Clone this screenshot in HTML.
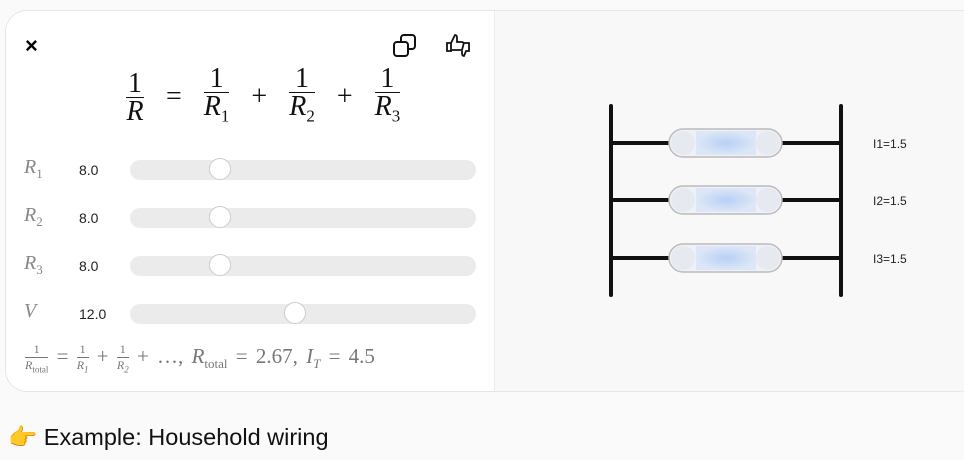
<!DOCTYPE html>
<html><head><meta charset="utf-8"><style>
body{margin:0;width:964px;height:460px;background:#fafafa;position:relative;overflow:hidden;font-family:"Liberation Sans",sans-serif}
.card{position:absolute;left:5px;top:10px;width:975px;height:380px;border:1px solid #e6e6e6;border-radius:22px;background:#f8f8f8;overflow:hidden}
.left{position:absolute;left:0;top:0;width:488px;height:380px;background:#fff;border-right:1px solid #ececec}
.m{font-family:"Liberation Serif",serif;position:absolute}
.lab{position:absolute;left:18px;font-family:"Liberation Serif",serif;font-style:italic;font-size:20px;color:#888}
.lab sub{font-style:normal;font-size:13px}
.val{position:absolute;left:73px;font-size:14px;color:#222}
.track{position:absolute;left:124px;width:346px;height:20px;border-radius:10px;background:#ebebeb}
.knob{position:absolute;width:22px;height:22px;border-radius:50%;background:#fff;border:1px solid #ccc;top:-2px;box-sizing:border-box}
.frac{display:inline-block;vertical-align:middle;text-align:center}
.frac span{display:block}
.big .frac{padding:0 3px}
</style></head><body>
<div class="card">
<div class="left">
<div style="position:absolute;left:19px;top:22px;font-size:22px;font-weight:bold">×</div>
<svg style="position:absolute;left:386px;top:22px" width="26" height="26" viewBox="0 0 26 26" fill="none" stroke="#111" stroke-width="2"><rect x="2" y="9" width="14" height="14" rx="3"/><path d="M9 9V5a3 3 0 0 1 3-3h8a3 3 0 0 1 3 3v8a3 3 0 0 1-3 3h-4"/></svg>
<svg style="position:absolute;left:438px;top:20px" width="30" height="30" viewBox="0 0 30 30" fill="none" stroke="#111" stroke-width="1.8"><path d="M3 12h4v8H3zM7 12l4-8c2 0 2 2 2 4v3h5c1 0 2 1 1.5 2.5L18 19H7"/><path d="M20 12h5v8h-3l-2 5c-2 0-2-2-2-3v-2"/></svg>
<div class="m big" style="left:117px;top:55px;font-size:28px;color:#111;white-space:nowrap">
<span class="frac"><span style="border-bottom:1.5px solid #111;padding:0 2px;line-height:26px">1</span><span style="font-style:italic;line-height:28px">R</span></span>
<span style="margin:0 12px">=</span>
<span class="frac"><span style="border-bottom:1.5px solid #111;line-height:26px">1</span><span style="font-style:italic;line-height:28px">R<sub style="font-style:normal;font-size:17px">1</sub></span></span>
<span style="margin:0 12px">+</span>
<span class="frac"><span style="border-bottom:1.5px solid #111;line-height:26px">1</span><span style="font-style:italic;line-height:28px">R<sub style="font-style:normal;font-size:17px">2</sub></span></span>
<span style="margin:0 12px">+</span>
<span class="frac"><span style="border-bottom:1.5px solid #111;line-height:26px">1</span><span style="font-style:italic;line-height:28px">R<sub style="font-style:normal;font-size:17px">3</sub></span></span>
</div>
<div class="lab" style="top:145px">R<sub>1</sub></div><div class="val" style="top:151px">8.0</div><div class="track" style="top:149px"><div class="knob" style="left:79px"></div></div>
<div class="lab" style="top:193px">R<sub>2</sub></div><div class="val" style="top:199px">8.0</div><div class="track" style="top:197px"><div class="knob" style="left:79px"></div></div>
<div class="lab" style="top:241px">R<sub>3</sub></div><div class="val" style="top:247px">8.0</div><div class="track" style="top:245px"><div class="knob" style="left:79px"></div></div>
<div class="lab" style="top:289px">V</div><div class="val" style="top:295px">12.0</div><div class="track" style="top:293px"><div class="knob" style="left:154px"></div></div>
<div class="m" style="left:19px;top:331px;font-size:21px;color:#777;white-space:nowrap;word-spacing:3px">
<span class="frac" style="font-size:12px"><span style="border-bottom:1px solid #777">1</span><span style="font-style:italic">R<sub style="font-style:normal;font-size:9px">total</sub></span></span>
= <span class="frac" style="font-size:12px"><span style="border-bottom:1px solid #777">1</span><span style="font-style:italic">R<sub style="font-size:9px">1</sub></span></span>
+ <span class="frac" style="font-size:12px"><span style="border-bottom:1px solid #777">1</span><span style="font-style:italic">R<sub style="font-size:9px">2</sub></span></span>
+ …, <i>R</i><sub style="font-size:13px">total</sub> = 2.67, <i>I<sub style="font-size:13px">T</sub></i> = 4.5
</div>
</div>
</div>
<svg style="position:absolute;left:0;top:0" width="964" height="460">
<defs><radialGradient id="b"><stop offset="0" stop-color="#a9c8f5"/><stop offset="1" stop-color="#d8e4f7"/></radialGradient></defs>
<g stroke="#111" stroke-width="4" stroke-linecap="round"><line x1="611" y1="106" x2="611" y2="295"/><line x1="841" y1="106" x2="841" y2="295"/></g>
<g id="r">
<line x1="611" y1="143" x2="669" y2="143" stroke="#111" stroke-width="4"/><line x1="782" y1="143" x2="841" y2="143" stroke="#111" stroke-width="4"/>
<rect x="669" y="129" width="113" height="28" rx="14" fill="#eef1f6" stroke="#bbb" stroke-width="1.5"/>
<rect x="696" y="131" width="60" height="24" fill="url(#b)" opacity="0.8"/>
<circle cx="683" cy="143" r="12" fill="#e6eaf0"/><circle cx="768" cy="143" r="12" fill="#e6eaf0"/>
</g>
<use href="#r" y="57"/><use href="#r" y="115"/>
<g font-size="12" fill="#222" font-family="Liberation Sans"><text x="873" y="148">I1=1.5</text><text x="873" y="205">I2=1.5</text><text x="873" y="263">I3=1.5</text></g>
</svg>
<div style="position:absolute;left:8px;top:423px;font-size:23.5px;color:#111">👉 Example: Household wiring</div>
</body></html>
